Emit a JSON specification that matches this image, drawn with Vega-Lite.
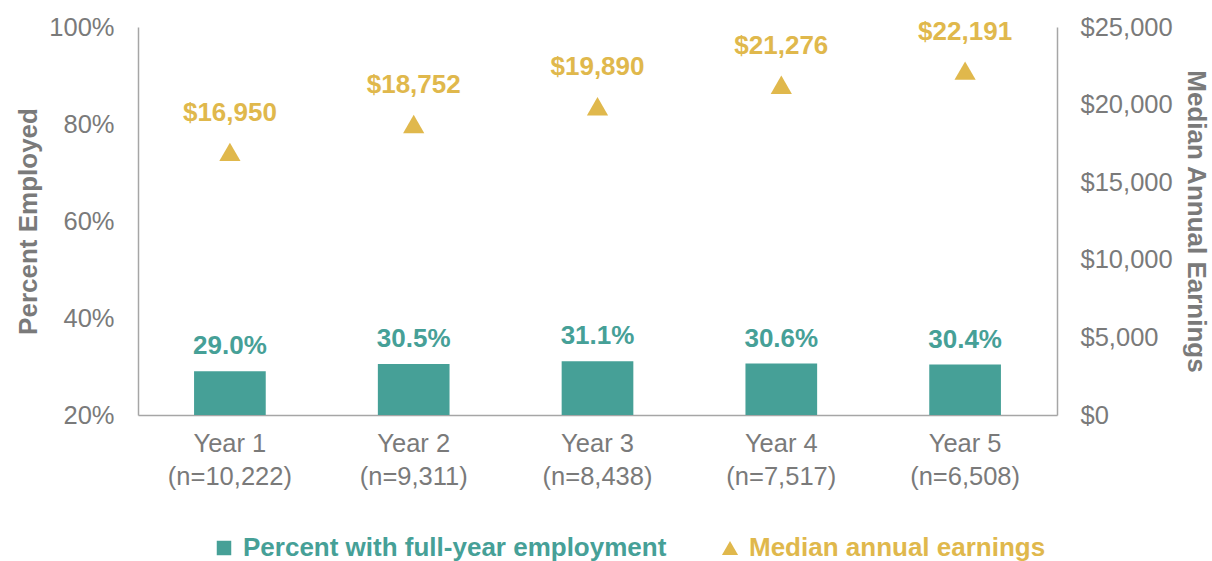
{
  "$schema": "https://vega.github.io/schema/vega-lite/v6.json",
  "width": 919,
  "height": 388,
  "autosize": {"type": "none"},
  "padding": {"left": 138, "top": 27, "right": 155, "bottom": 146},
  "background": "white",
  "config": {
    "view": {"stroke": null},
    "font": "Liberation Sans",
    "axis": {
      "labelFont": "Liberation Sans",
      "labelFontSize": 25.5,
      "labelColor": "#7A7A7A",
      "titleFont": "Liberation Sans",
      "titleFontSize": 26,
      "titleFontWeight": "bold",
      "titleColor": "#7A7A7A",
      "domainColor": "#A6A6A6",
      "domainWidth": 1.5,
      "ticks": false,
      "grid": false
    }
  },
  "data": {
    "values": [
      {"cat": "Year 1|(n=10,222)", "pct": 0.290, "earnings": 16950},
      {"cat": "Year 2|(n=9,311)", "pct": 0.305, "earnings": 18752},
      {"cat": "Year 3|(n=8,438)", "pct": 0.311, "earnings": 19890},
      {"cat": "Year 4|(n=7,517)", "pct": 0.306, "earnings": 21276},
      {"cat": "Year 5|(n=6,508)", "pct": 0.304, "earnings": 22191}
    ]
  },
  "encoding": {
    "x": {
      "field": "cat",
      "type": "nominal",
      "sort": null,
      "scale": {"paddingInner": 0.61, "paddingOuter": 0.305},
      "axis": {
        "title": null,
        "labelAngle": 0,
        "labelPadding": 16,
        "labelLineHeight": 33,
        "labelExpr": "split(datum.label, '|')",
        "labelBaseline": "top"
      }
    }
  },
  "layer": [
    {
      "encoding": {
        "y": {
          "field": "pct",
          "type": "quantitative",
          "scale": {"domain": [0.2, 1.0], "zero": false, "nice": false},
          "axis": {
            "orient": "left",
            "title": "Percent Employed",
            "format": ".0%",
            "values": [0.2, 0.4, 0.6, 0.8, 1.0],
            "labelPadding": 24,
            "titlePadding": 7
          }
        }
      },
      "layer": [
        {
          "mark": {"type": "bar"},
          "encoding": {
            "y2": {"datum": 0.2},
            "color": {
              "datum": "Percent with full-year employment",
              "type": "nominal",
              "scale": {
                "domain": ["Percent with full-year employment", "Median annual earnings"],
                "range": ["#46A097", "#E0B84C"]
              },
              "legend": {
                "orient": "none",
                "legendX": 73,
                "legendY": 508,
                "direction": "horizontal",
                "title": null,
                "padding": 0,
                "labelFont": "Liberation Sans",
                "labelFontSize": 26,
                "labelFontWeight": "bold",
                "labelLimit": 0,
                "labelOffset": 6,
                "symbolSize": 210,
                "columnPadding": 50,
                "encode": {
                  "symbols": {
                    "update": {
                      "shape": {"signal": "datum.value === 'Median annual earnings' ? 'triangle-up' : 'square'"},
                      "size": {"signal": "datum.value === 'Median annual earnings' ? 260 : 210"},
                      "fill": {"signal": "datum.value === 'Median annual earnings' ? '#E0B84C' : '#46A097'"},
                      "stroke": {"value": null},
                      "opacity": {"value": 1}
                    }
                  },
                  "labels": {
                    "update": {
                      "fill": {"signal": "datum.value === 'Median annual earnings' ? '#E0B84C' : '#46A097'"}
                    }
                  }
                }
              }
            }
          }
        },
        {
          "mark": {
            "type": "text",
            "baseline": "middle",
            "dy": -25,
            "fontSize": 26,
            "fontWeight": "bold",
            "font": "Liberation Sans",
            "color": "#46A097"
          },
          "encoding": {
            "text": {"field": "pct", "type": "quantitative", "format": ".1%"}
          }
        }
      ]
    },
    {
      "encoding": {
        "y": {
          "field": "earnings",
          "type": "quantitative",
          "scale": {"domain": [0, 25000], "nice": false},
          "axis": {
            "orient": "right",
            "title": "Median Annual Earnings",
            "format": "$,.0f",
            "values": [0, 5000, 10000, 15000, 20000, 25000],
            "labelPadding": 23,
            "titlePadding": 10
          }
        }
      },
      "layer": [
        {
          "mark": {"type": "point", "shape": "triangle-up", "filled": true, "size": 450, "opacity": 1},
          "encoding": {
            "color": {"datum": "Median annual earnings", "type": "nominal"}
          }
        },
        {
          "mark": {
            "type": "text",
            "baseline": "middle",
            "dy": -39,
            "fontSize": 26,
            "fontWeight": "bold",
            "font": "Liberation Sans",
            "color": "#E0B84C"
          },
          "encoding": {
            "text": {"field": "earnings", "type": "quantitative", "format": "$,.0f"}
          }
        }
      ]
    }
  ],
  "resolve": {"scale": {"y": "independent"}}
}
